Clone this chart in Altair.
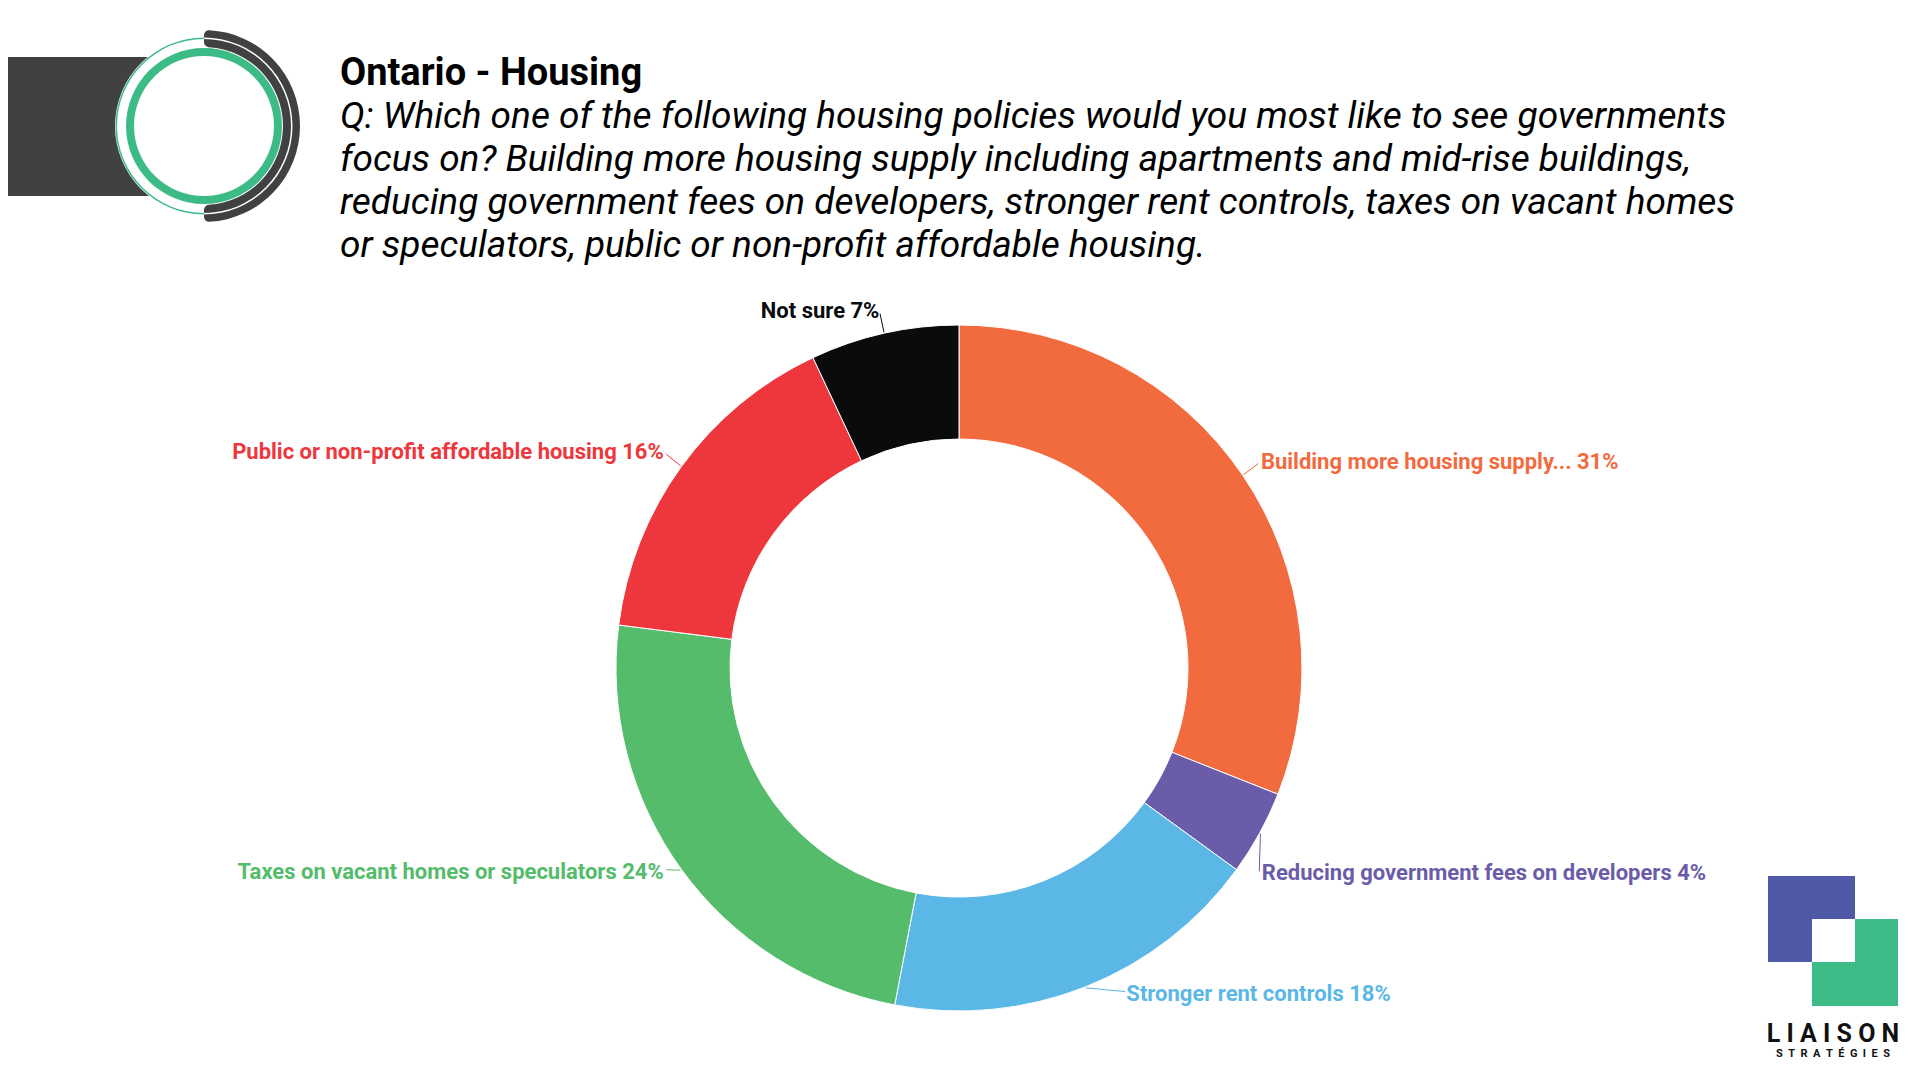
import math
import altair as alt
import pandas as pd

# ---------------- data ----------------
categories = [
    "Building more housing supply...",
    "Reducing government fees on developers",
    "Stronger rent controls",
    "Taxes on vacant homes or speculators",
    "Public or non-profit affordable housing",
    "Not sure",
]
values = [31, 4, 18, 24, 16, 7]
colors = ["#F26B3F", "#6A5CA9", "#5BB8E6", "#54BC6B", "#EE363D", "#0A0B0D"]

title_text = "Ontario - Housing"
question_lines = [
    "Q: Which one of the following housing policies would you most like to see governments",
    "focus on? Building more housing supply including apartments and mid-rise buildings,",
    "reducing government fees on developers, stronger rent controls, taxes on vacant homes",
    "or speculators, public or non-profit affordable housing.",
]
brand_name = "LIAISON"
brand_sub = "STRATÉGIES"

df = pd.DataFrame({
    "category": categories,
    "value": values,
    "order": list(range(len(categories))),
})
df["label"] = [f"{c} {v}%" for c, v in zip(categories, values)]

one = pd.DataFrame({"k": [0]})

# ---------------- layout ----------------
W, H = 1904, 1064
CX, CY = 951, 660
R_OUT, R_IN = 343, 229
R_LABEL = 365
FONT = "Roboto"
LABEL_SIZE = 22

NUDGE_REDUCING = (-17, 30)
NUDGE_STRONGER = (33, -12)
NUDGE_TAXES = (0, -10)
LABEL_DY = -1

color_scale = alt.Scale(domain=categories, range=colors)
base = alt.Chart(df)

donut = base.mark_arc(radius=R_OUT, radius2=R_IN, stroke="white", strokeWidth=1).encode(
    theta=alt.Theta("value:Q", stack=True),
    order=alt.Order("order:Q"),
    color=alt.Color("category:N", scale=color_scale, legend=None),
    x=alt.value(CX),
    y=alt.value(CY),
)


def label_layer(orders, align, dx=0, dy=0):
    cond = " || ".join(f"datum.order == {o}" for o in orders)
    return base.transform_calculate(t=f"({cond}) ? datum.label : ''").mark_text(
        radius=R_LABEL, align=align, baseline="middle", dx=dx, dy=dy + LABEL_DY,
        font=FONT, fontSize=LABEL_SIZE, fontWeight="bold",
    ).encode(
        theta=alt.Theta("value:Q", stack=True),
        order=alt.Order("order:Q"),
        color=alt.Color("category:N", scale=color_scale, legend=None),
        text="t:N",
        x=alt.value(CX),
        y=alt.value(CY),
    )


labels_right = label_layer([0], "left")
labels_reducing = label_layer([1], "left", *NUDGE_REDUCING)
labels_stronger = label_layer([2], "left", *NUDGE_STRONGER)
labels_taxes = label_layer([3], "right", *NUDGE_TAXES)
labels_left = label_layer([4, 5], "right")

ndx = (f"(datum.order == 1 ? {NUDGE_REDUCING[0]} : datum.order == 2 ? {NUDGE_STRONGER[0]} : "
       f"datum.order == 3 ? {NUDGE_TAXES[0]} : 0)")
ndy = (f"(datum.order == 1 ? {NUDGE_REDUCING[1]} : datum.order == 2 ? {NUDGE_STRONGER[1]} : "
       f"datum.order == 3 ? {NUDGE_TAXES[1]} : 0) + {LABEL_DY}")
leaders = base.transform_window(
    cum="sum(value)", sort=[alt.SortField("order")]
).transform_joinaggregate(total="sum(value)").transform_calculate(
    mid="(datum.cum - datum.value / 2) / datum.total * 2 * PI"
).transform_calculate(
    lx1=f"{CX} + {R_OUT + 1} * sin(datum.mid)",
    ly1=f"{CY} - {R_OUT + 1} * cos(datum.mid)",
    lx2=f"{CX} + {R_LABEL - 3} * sin(datum.mid) + {ndx}",
    ly2=f"{CY} - {R_LABEL - 3} * cos(datum.mid) + {ndy}",
).mark_rule(strokeWidth=1).encode(
    x=alt.X("lx1:Q", scale=None, axis=None),
    y=alt.Y("ly1:Q", scale=None, axis=None),
    x2="lx2:Q",
    y2="ly2:Q",
    color=alt.Color("category:N", scale=color_scale, legend=None),
)

# ---------------- titles ----------------
title = alt.Chart(one).mark_text(
    align="left", baseline="alphabetic", font=FONT, fontSize=38, fontWeight="bold", color="#000000"
).encode(x=alt.value(332), y=alt.value(77), text=alt.value(title_text))

question = alt.Chart(one).mark_text(
    align="left", baseline="alphabetic", font=FONT, fontSize=37, fontStyle="italic",
    color="#000000", lineHeight=43,
).encode(x=alt.value(332), y=alt.value(120), text=alt.value(question_lines))

# ---------------- top-left decoration ----------------
DARK = "#414042"
GREEN = "#3DBB87"
LX, LY = 196, 118
deco = [
    alt.Chart(one).mark_rect(color=DARK).encode(
        x=alt.value(0), x2=alt.value(LX), y=alt.value(49), y2=alt.value(188)),
    alt.Chart(one).mark_arc(radius=89, theta=0, theta2=2 * math.pi, color="white").encode(
        x=alt.value(LX), y=alt.value(LY)),
    alt.Chart(one).mark_arc(radius=96, radius2=79, theta=0, theta2=math.pi, cornerRadius=5, color=DARK).encode(
        x=alt.value(LX), y=alt.value(LY)),
    alt.Chart(one).mark_arc(radius=78, radius2=70, theta=0, theta2=2 * math.pi, color=GREEN).encode(
        x=alt.value(LX), y=alt.value(LY)),
    alt.Chart(one).mark_arc(radius=88.5, radius2=87, theta=math.pi, theta2=2 * math.pi, color=GREEN).encode(
        x=alt.value(LX), y=alt.value(LY)),
    alt.Chart(one).mark_arc(radius=88.5, radius2=87, theta=0, theta2=math.pi, color="white").encode(
        x=alt.value(LX), y=alt.value(LY)),
]

# ---------------- bottom-right logo ----------------
PURPLE = "#5058A8"
logo = [
    alt.Chart(one).mark_rect(color=PURPLE).encode(
        x=alt.value(1760), x2=alt.value(1847), y=alt.value(868), y2=alt.value(954)),
    alt.Chart(one).mark_rect(color=GREEN).encode(
        x=alt.value(1804), x2=alt.value(1890), y=alt.value(911), y2=alt.value(998)),
    alt.Chart(one).mark_rect(color="white").encode(
        x=alt.value(1804), x2=alt.value(1847), y=alt.value(911), y2=alt.value(954)),
    alt.Chart(one).mark_text(align="center", baseline="alphabetic", font=FONT, fontSize=25,
                             fontWeight="bold", color="#111111").encode(
        x=alt.value(1825), y=alt.value(1034), text=alt.value("\u00a0".join(brand_name))),
    alt.Chart(one).mark_text(align="center", baseline="alphabetic", font=FONT, fontSize=11,
                             fontWeight="bold", color="#111111").encode(
        x=alt.value(1825), y=alt.value(1049), text=alt.value("\u00a0\u00a0".join(brand_sub))),
]

chart = alt.layer(
    *deco, title, question, donut, leaders,
    labels_right, labels_reducing, labels_stronger, labels_taxes, labels_left,
    *logo,
).properties(
    width=W, height=H, autosize=alt.AutoSizeParams(type="none"), padding=0,
    background="white",
).configure_view(stroke=None)

chart.save("out.html", embed_options={"renderer": "svg", "actions": False})
